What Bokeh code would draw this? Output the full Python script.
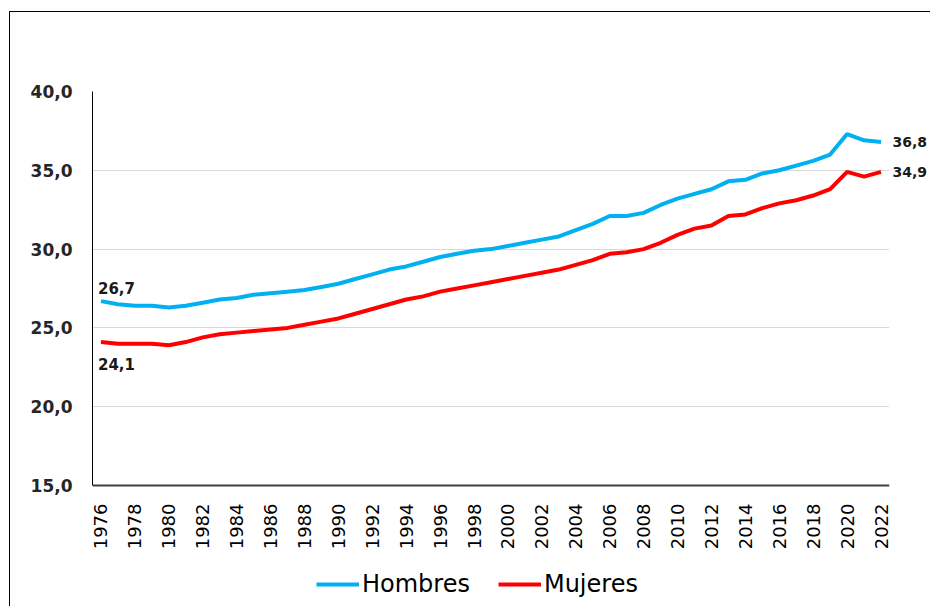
import math
from bokeh.plotting import figure
from bokeh.models import (ColumnDataSource, FixedTicker, Legend, LegendItem, Range1d,
                          LinearAxis, Span)
from bokeh.core.properties import value
from bokeh.embed import file_html
from bokeh.resources import INLINE

years = list(range(1976, 2023))
hombres = [26.7, 26.5, 26.4, 26.4, 26.3, 26.4, 26.6, 26.8, 26.9, 27.1,
           27.2, 27.3, 27.4, 27.6, 27.8, 28.1, 28.4, 28.7, 28.9, 29.2,
           29.5, 29.7, 29.9, 30.0, 30.2, 30.4, 30.6, 30.8, 31.2, 31.6,
           32.1, 32.1, 32.3, 32.8, 33.2, 33.5, 33.8, 34.3, 34.4, 34.8,
           35.0, 35.3, 35.6, 36.0, 37.3, 36.9, 36.8]
mujeres = [24.1, 24.0, 24.0, 24.0, 23.9, 24.1, 24.4, 24.6, 24.7, 24.8,
           24.9, 25.0, 25.2, 25.4, 25.6, 25.9, 26.2, 26.5, 26.8, 27.0,
           27.3, 27.5, 27.7, 27.9, 28.1, 28.3, 28.5, 28.7, 29.0, 29.3,
           29.7, 29.8, 30.0, 30.4, 30.9, 31.3, 31.5, 32.1, 32.2, 32.6,
           32.9, 33.1, 33.4, 33.8, 34.9, 34.6, 34.9]
y_ticks = [15, 20, 25, 30, 35, 40]
y_tick_labels = ["15,0", "20,0", "25,0", "30,0", "35,0", "40,0"]
x_ticks = list(range(1976, 2023, 2))
x_tick_labels = [str(t) for t in x_ticks]
series_names = ["Hombres", "Mujeres"]

FONT = "DejaVu Sans"
Y_MIN, Y_MAX = 15, 40
# frame: top at 91px, value 15 at 485px, frame bottom at canvas bottom (606px)
px_per_unit = (485 - 91) / (Y_MAX - Y_MIN)
y_bottom = Y_MIN - (606 - 485) / px_per_unit


def fmt(v):
    return f"{v:.1f}".replace(".", ",")


p = figure(width=930, height=606, output_backend="svg", toolbar_location=None,
           x_range=Range1d(1975.5, 2022.5), y_range=Range1d(y_bottom, Y_MAX),
           x_axis_location=None,
           min_border_left=92, min_border_right=38, min_border_top=91,
           min_border_bottom=0)
p.outline_line_color = None
p.background_fill_color = "white"
p.border_fill_color = None
p.styles = {
    "background": "linear-gradient(#000,#000) 9px 11px / 1px calc(100% - 11px) no-repeat, "
                  "linear-gradient(#000,#000) 9px 11px / calc(100% - 9px) 1px no-repeat, #fff"
}

src = ColumnDataSource(dict(year=years, h=hombres, m=mujeres))
rh = p.line("year", "h", source=src, line_color="#00B0F0", line_width=4)
rm = p.line("year", "m", source=src, line_color="#FF0000", line_width=4)

# grid
p.xgrid.visible = False
p.ygrid.ticker = FixedTicker(ticks=y_ticks)
p.ygrid.grid_line_color = "#d9d9d9"
p.ygrid.grid_line_width = 1

# y axis
p.yaxis.ticker = FixedTicker(ticks=y_ticks)
p.yaxis.bounds = (Y_MIN, Y_MAX)
p.yaxis.major_label_overrides = {t: l for t, l in zip(y_ticks, y_tick_labels)}
p.yaxis.major_tick_line_color = None
p.yaxis.minor_tick_line_color = None
p.yaxis.major_tick_out = 0
p.yaxis.major_tick_in = 0
p.yaxis.minor_tick_out = 0
p.yaxis.axis_line_color = "black"
p.yaxis.axis_line_width = 1
p.yaxis.major_label_standoff = 20
p.yaxis.major_label_text_font = FONT
p.yaxis.major_label_text_font_size = "17px"
p.yaxis.major_label_text_font_style = "bold"
p.yaxis.major_label_text_color = "#262626"

# x axis line at y = 15 and rotated year labels
p.add_layout(Span(location=Y_MIN, dimension="width", line_color="#404040", line_width=2))
p.text(x=x_ticks, y=[Y_MIN] * len(x_ticks), text=x_tick_labels, angle=math.pi / 2,
       y_offset=18, text_align="right", text_baseline="middle",
       text_font=value(FONT), text_font_size="18px", text_color="black")

# end-value labels on the right (as an axis, outside the frame)
end_vals = [hombres[-1], mujeres[-1]]
raxis = LinearAxis(ticker=FixedTicker(ticks=end_vals),
                   major_label_overrides={v: fmt(v) for v in end_vals},
                   axis_line_color=None, major_tick_line_color=None,
                   minor_tick_line_color=None, major_tick_out=0, major_tick_in=0,
                   minor_tick_out=0, major_label_standoff=3,
                   major_label_text_font=FONT, major_label_text_font_size="14px",
                   major_label_text_font_style="bold", major_label_text_color="#1a1a1a")
p.add_layout(raxis, "right")

# start-value labels
p.text(x=[years[0]], y=[hombres[0]], text=[fmt(hombres[0])], x_offset=-3, y_offset=-7,
       text_align="left", text_baseline="bottom", text_font=value(FONT),
       text_font_size="15px", text_font_style="bold", text_color="#1a1a1a")
p.text(x=[years[0]], y=[mujeres[0]], text=[fmt(mujeres[0])], x_offset=-3, y_offset=16,
       text_align="left", text_baseline="top", text_font=value(FONT),
       text_font_size="15px", text_font_style="bold", text_color="#1a1a1a")

legend = Legend(items=[LegendItem(label=series_names[0], renderers=[rh]),
                       LegendItem(label=series_names[1], renderers=[rm])],
                orientation="horizontal", location=(224, 8),
                glyph_width=43, label_standoff=3, spacing=28, padding=0, margin=0,
                label_text_font=FONT, label_text_font_size="24px",
                label_text_color="black", border_line_color=None,
                background_fill_alpha=0)
p.add_layout(legend, "center")

open("out.html", "w").write(file_html(p, INLINE))
